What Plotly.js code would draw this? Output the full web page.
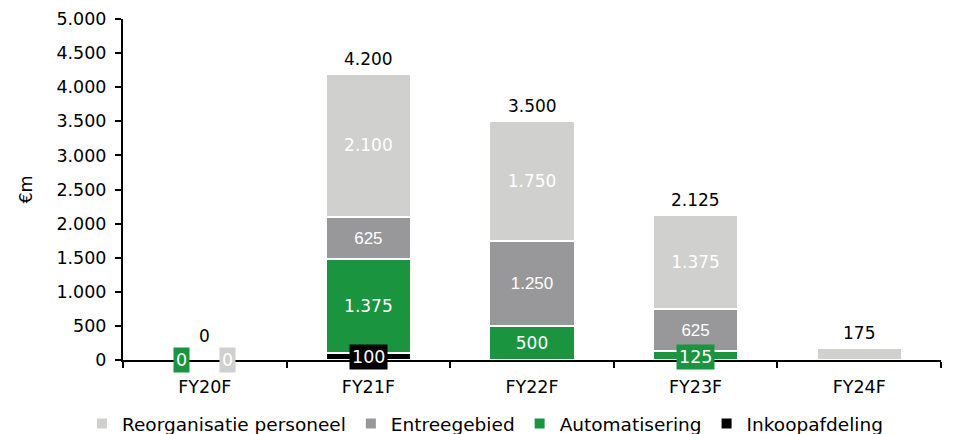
<!DOCTYPE html>
<html><head><meta charset="utf-8">
<script src="https://cdn.plot.ly/plotly-3.0.1.min.js"></script>
<style>body{margin:0;padding:0;background:#fff}#chart{width:953px;height:434px}</style>
</head><body><div id="chart"></div>
<script>
const categories = ['FY20F','FY21F','FY22F','FY23F','FY24F'];
const inkoop = [0, 100, 0, 0, 0];
const automatisering = [0, 1375, 500, 125, 0];
const entree = [0, 625, 1250, 625, 0];
const reorg = [0, 2100, 1750, 1375, 175];
const seriesNames = ['Inkoopafdeling','Automatisering','Entreegebied','Reorganisatie personeel'];
const yTicks = [0,500,1000,1500,2000,2500,3000,3500,4000,4500,5000];

const colors = ['#000000','#1b9440','#98989a','#d0d0ce'];
const series = [inkoop, automatisering, entree, reorg];
const fmt = v => v.toLocaleString('de-DE');
const insideFonts = [
  {family:'DejaVu Sans', size:16, color:'#ffffff'},
  {family:'DejaVu Sans', size:17, color:'#ffffff'},
  {family:'Liberation Sans', size:17, color:'#ffffff'},
  {family:'DejaVu Sans', size:17, color:'#ffffff'}
];
const MININ = 300; // below this value the label goes in a box
const traces = series.map((vals, i) => ({
  type:'bar', name: seriesNames[i], x: categories, y: vals,
  marker:{color: colors[i], line:{color:'#ffffff', width:2}},
  text: vals.map((v,j) => (v >= MININ) ? fmt(v) : ''),
  texttemplate:'%{text}',
  textposition:'inside', insidetextanchor:'middle',
  textfont: insideFonts[i], hoverinfo:'skip'
}));

const annotations = [];
categories.forEach((c, j) => {
  const tot = series.reduce((s, a) => s + a[j], 0);
  annotations.push({x:c, y:tot, text: fmt(tot), showarrow:false, yanchor:'bottom', yshift: tot === 0 ? 12 : 3,
    font:{family:'DejaVu Sans', size:17, color:'#000'}});
});
series.forEach((vals, i) => {
  vals.forEach((v, j) => {
    if (v > 0 && v < 150) {
      annotations.push({x:categories[j], y:0, text: fmt(v), showarrow:false, yanchor:'middle', yshift:3,
        bgcolor: colors[i], borderpad:2, font:{family:'DejaVu Sans', size:17.5, color:'#fff'}});
    }
  });
});
annotations.push({x:categories[0], y:automatisering[0], text: fmt(automatisering[0]), showarrow:false, xshift:-23, yanchor:'middle',
  bgcolor: colors[1], borderpad:2, font:{family:'DejaVu Sans', size:17.5, color:'#fff'}});
annotations.push({x:categories[0], y:reorg[0], text: fmt(reorg[0]), showarrow:false, xshift:23, yanchor:'middle',
  bgcolor: colors[3], borderpad:2, font:{family:'DejaVu Sans', size:17.5, color:'#fff'}});

const layout = {
  width:953, height:434,
  margin:{l:123, r:12, t:19, b:74, autoexpand:false},
  barmode:'stack', bargap:0.48,
  separators:',.',
  paper_bgcolor:'#fff', plot_bgcolor:'#fff',
  font:{family:'DejaVu Sans', size:17, color:'#000'},
  xaxis:{type:'category', showline:true, linecolor:'#000', linewidth:2, ticks:'outside', tickson:'boundaries',
    ticklen:6, tickcolor:'#000', tickwidth:2, showgrid:false, zeroline:false, ticklabelstandoff:10,
    tickfont:{family:'DejaVu Sans', size:17.5, color:'#000'}},
  yaxis:{range:[0,5000], tickvals:yTicks, ticktext: yTicks.map(fmt), showline:true, linecolor:'#000', linewidth:2,
    ticks:'outside', ticklen:6, tickcolor:'#000', tickwidth:2, showgrid:false, zeroline:false, ticklabelstandoff:5,
    tickfont:{family:'DejaVu Sans', size:17.5, color:'#000'},
    title:{text:'€m', font:{family:'DejaVu Sans', size:17.5, color:'#000'}, standoff:19}},
  legend:{orientation:'h', traceorder:'reversed', xref:'container', x:0.086, xanchor:'left', yref:'container', y:0.067, yanchor:'top',
    font:{family:'DejaVu Sans', size:18.5, color:'#000'}, itemwidth:30, tracegroupgap:0},
  annotations: annotations,
  showlegend:true
};
Plotly.newPlot('chart', traces, layout, {displayModeBar:false, staticPlot:true});
</script></body></html>
